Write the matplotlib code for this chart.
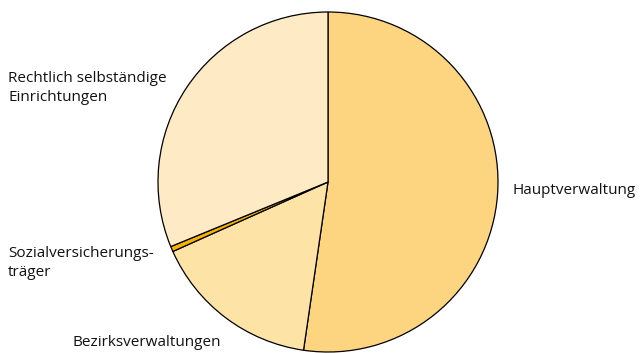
import matplotlib.pyplot as plt

# Anteile in Prozent, im Uhrzeigersinn ab 12 Uhr
labels = ["Hauptverwaltung", "Bezirksverwaltungen",
          "Sozialversicherungs-\nträger", "Rechtlich selbständige\nEinrichtungen"]
shares = [52.3, 16.0, 0.5, 31.2]
colors = ["#FDD580", "#FEE3A6", "#F5B300", "#FEEAC5"]

# label anchor (left, vertical centre) in pixel coordinates
label_pos = [(512, 190), (73, 342), (8, 263), (8, 88)]

W, H = 642, 353
fig = plt.figure(figsize=(W / 100, H / 100), dpi=100)
ax = fig.add_axes([0, 0, 1, 1])

ax.pie(shares, colors=colors, startangle=90, counterclock=False,
       center=(328, H - 182), radius=170, frame=True,
       wedgeprops=dict(edgecolor="black", linewidth=0.9))
ax.set_xlim(0, W)
ax.set_ylim(0, H)
ax.set_aspect("equal")
ax.axis("off")

for text, (x, y) in zip(labels, label_pos):
    ax.text(x, H - y, text, ha="left", va="center", fontsize=11,
            family="Open Sans", color="#111111", linespacing=1.3)

fig.savefig("out.png", dpi=100)
